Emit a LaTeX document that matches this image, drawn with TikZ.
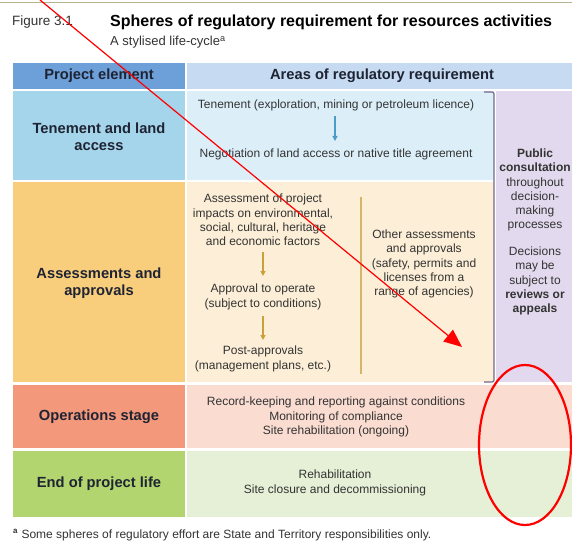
\documentclass[tikz,border=0pt]{standalone}
\usepackage{fontspec}
\setmainfont{Liberation Sans}
\usetikzlibrary{arrows.meta}
\definecolor{hdL}{HTML}{6D9FD8}
\definecolor{hdR}{HTML}{C6DAF1}
\definecolor{tnL}{HTML}{A5D5EA}
\definecolor{tnR}{HTML}{DCEFF9}
\definecolor{asL}{HTML}{F8CD7C}
\definecolor{asR}{HTML}{FDEFD7}
\definecolor{puR}{HTML}{E3D9EE}
\definecolor{opL}{HTML}{F4987B}
\definecolor{opR}{HTML}{FADCD1}
\definecolor{enL}{HTML}{B2D56F}
\definecolor{enR}{HTML}{E6F0D6}
\definecolor{txt}{HTML}{333333}
\definecolor{ink}{HTML}{1E2433}
\definecolor{blueArr}{HTML}{4A9CC9}
\definecolor{gold}{HTML}{C9A03A}
\definecolor{goldLine}{HTML}{D7B568}
\definecolor{brk}{HTML}{74668F}
\definecolor{rule}{HTML}{B5B38F}
\tikzset{
  cell/.style={fill=#1, draw=none},
  elem/.style={font=\fontsize{14.7}{17}\selectfont\bfseries, text=ink, align=center, inner sep=0pt},
  body/.style={font=\fontsize{12}{14.3}\selectfont, text=txt, align=center, inner sep=0pt},
  pub/.style={font=\fontsize{12}{14.2}\selectfont, text=txt, align=center, inner sep=0pt},
  flowB/.style={draw=blueArr, line width=1.2pt, -{Triangle[length=5pt,width=5pt]}},
  flowG/.style={draw=gold, line width=1.2pt, -{Triangle[length=5pt,width=5pt]}},
  mark red/.style={draw=red, line width=1.2pt},
}
\begin{document}
\begin{tikzpicture}[x=1pt,y=-1pt]
\useasboundingbox (0,0) rectangle (572,545);
\fill[white] (0,0) rectangle (572,545);

% top rule and heading
\draw[rule, line width=1pt] (0,3) -- (572,3);
\node[anchor=west, font=\fontsize{13.5}{15}\selectfont, text=txt, inner sep=0pt] (fig) at (12,22) {Figure 3.1};
\node[anchor=west, font=\fontsize{16}{18}\selectfont\bfseries, text=black, inner sep=0pt] (title) at (110,22) {Spheres of regulatory requirement for resources activities};
\node[anchor=west, font=\fontsize{13}{14}\selectfont, text=txt, inner sep=0pt] (sub) at (110,42) {A stylised life-cycle\textsuperscript{a}};

% header row
\fill[cell=hdL] (13,63) rectangle (185,89);
\fill[cell=hdR] (187,63) rectangle (572,89);
\node[elem] (hpe) at (99,76) {Project element};
\node[elem] (har) at (382,76) {Areas of regulatory requirement};

% tenement row
\fill[cell=tnL] (13,91) rectangle (185,180);
\fill[cell=tnR] (187,91) rectangle (494,180);
\node[elem] (tn) at (99,137) {Tenement and land\\access};
\node[body] (ten) at (336,105) {Tenement (exploration, mining or petroleum licence)};
\node[body] (neg) at (336,154) {Negotiation of land access or native title agreement};
\draw[flowB] (335,116) -- (335,141);

% assessments row
\fill[cell=asL] (13,182) rectangle (185,382);
\fill[cell=asR] (187,182) rectangle (494,382);
\node[elem] (as) at (99,283) {Assessments and\\approvals};
\node[body] (a1) at (263,220) {Assessment of project\\impacts on environmental,\\social, cultural, heritage\\and economic factors};
\node[body] (a2) at (263,297) {Approval to operate\\(subject to conditions)};
\node[body] (a3) at (263,359) {Post-approvals\\(management plans, etc.)};
\draw[flowG] (a1.south -| 263,0) ++(0,6) -- (263,276);
\draw[flowG] (263,316) -- (263,340);
\draw[goldLine, line width=1.2pt] (361,197) -- (361,374);
\node[body] (oth) at (424,264) {Other assessments\\and approvals\\(safety, permits and\\licenses from a\\range of agencies)};

% public consultation column
\fill[cell=puR] (496,91) rectangle (572,382);
\node[pub] (pc) at (535,190) {\textbf{Public}\\\textbf{consultation}\\throughout\\decision-\\making\\processes};
\node[pub] (dc) at (535,281) {Decisions\\may be\\subject to\\\textbf{reviews or}\\\textbf{appeals}};
\draw[brk, line width=1.2pt, rounded corners=2pt] (484,92) -- (494,92) -- (494,382) -- (484,382);

% operations row
\fill[cell=opL] (13,385) rectangle (185,448);
\fill[cell=opR] (187,385) rectangle (572,448);
\node[elem] (op) at (99,417) {Operations stage};
\node[body] (ops) at (336,417) {Record-keeping and reporting against conditions\\Monitoring of compliance\\Site rehabilitation (ongoing)};

% end of project life row
\fill[cell=enL] (13,451) rectangle (185,517);
\fill[cell=enR] (187,451) rectangle (572,517);
\node[elem] (en) at (99,484) {End of project life};
\node[body] (ens) at (335,483) {Rehabilitation\\Site closure and decommissioning};

% footnote
\node[anchor=west, font=\fontsize{12}{14}\selectfont, text=txt, inner sep=0pt] (fn) at (13,535) {\textsuperscript{\textbf{a}} Some spheres of regulatory effort are State and Territory responsibilities only.};

% red mark-up over the figure
\coordinate (rs) at (40,0);
\coordinate (re) at (462,347);
\draw[mark red, -{Triangle[length=18pt,width=15pt]}] (rs) -- (re);
\draw[red, line width=2.2pt] (525,445) ellipse [x radius=46, y radius=80];
\end{tikzpicture}
\end{document}
